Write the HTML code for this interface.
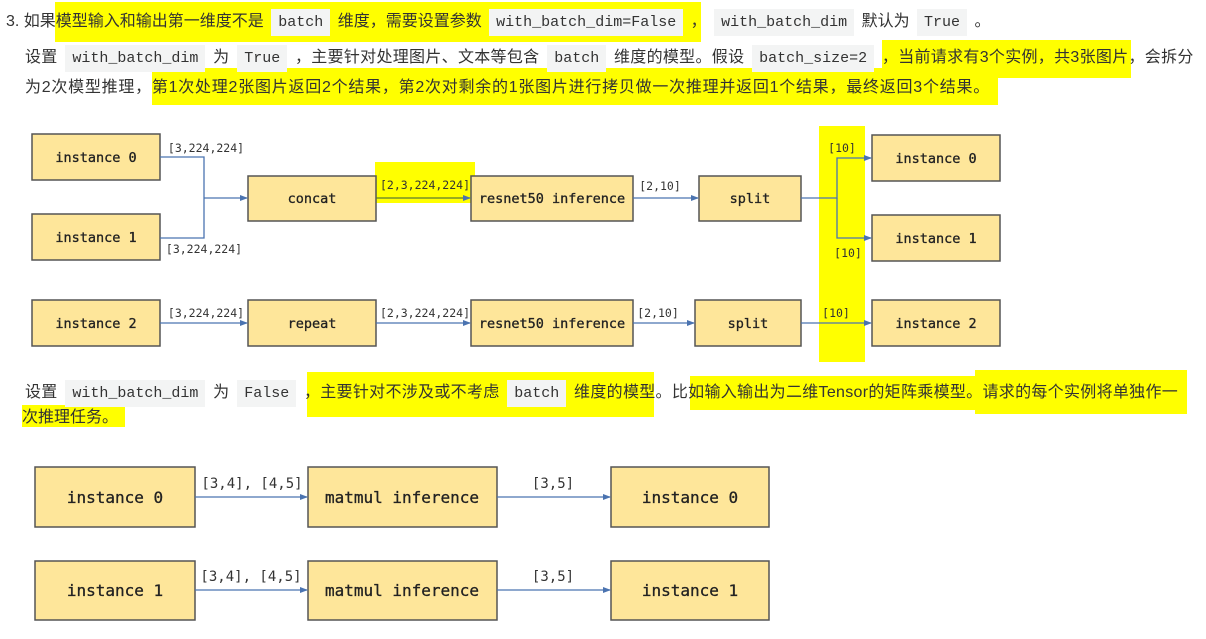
<!DOCTYPE html>
<html><head><meta charset="utf-8"><style>
body{margin:0;width:1206px;height:639px;background:#fff;position:relative;overflow:hidden;font-family:"Liberation Sans","Noto Sans CJK SC",sans-serif;color:#333;font-size:16px}
.hl{position:absolute;background:#ffff00}
.t{position:absolute;white-space:nowrap;line-height:20px}
code{font-family:"Liberation Mono","DejaVu Sans Mono",monospace;background:#f3f4f4;padding:5px 7px;font-size:15px;color:#333;margin:0 3px;letter-spacing:0}
svg{position:absolute;left:0;top:0}
</style></head><body>
<div class="hl" style="left:55px;top:2px;width:646px;height:40px"></div>
<div class="hl" style="left:882px;top:40px;width:249px;height:38px"></div>
<div class="hl" style="left:152px;top:68px;width:846px;height:37px"></div>
<div class="hl" style="left:307px;top:372px;width:347px;height:45px"></div>
<div class="hl" style="left:690px;top:376px;width:286px;height:34px"></div>
<div class="hl" style="left:975px;top:370px;width:212px;height:44px"></div>
<div class="hl" style="left:22px;top:405px;width:103px;height:22px"></div>
<div class="hl" style="left:375px;top:162px;width:100px;height:41px"></div>
<div class="hl" style="left:819px;top:126px;width:46px;height:236px"></div>

<div class="t" style="left:6px;top:12px">3. 如果模型输入和输出第一维度不是 <code>batch</code> 维度，需要设置参数 <code>with_batch_dim=False</code> ， <code>with_batch_dim</code> 默认为 <code>True</code> 。</div>
<div class="t" style="left:25px;top:48px;letter-spacing:0.3px">设置 <code>with_batch_dim</code> 为 <code>True</code> ，主要针对处理图片、文本等包含 <code>batch</code> 维度的模型。假设 <code>batch_size=2</code> ，当前请求有3个实例，共3张图片，会拆分</div>
<div class="t" style="left:25px;top:78px;letter-spacing:0.75px">为2次模型推理，第1次处理2张图片返回2个结果，第2次对剩余的1张图片进行拷贝做一次推理并返回1个结果，最终返回3个结果。</div>
<div class="t" style="left:25px;top:383px;letter-spacing:0.3px">设置 <code>with_batch_dim</code> 为 <code>False</code> ，主要针对不涉及或不考虑 <code>batch</code> 维度的模型。比如输入输出为二维Tensor的矩阵乘模型。请求的每个实例将单独作一</div>
<div class="t" style="left:22px;top:408px">次推理任务。</div>

<svg width="1206" height="639" font-family="'DejaVu Sans Mono','Liberation Mono',monospace">
<defs><marker id="a" markerWidth="8" markerHeight="8" refX="7" refY="4" orient="auto" markerUnits="userSpaceOnUse"><path d="M0,1 L8,4 L0,7z" fill="#4a73b0"/></marker></defs>
<g fill="#fee69a" stroke="#555" stroke-width="1.5">
<rect x="32" y="134" width="128" height="46"/><rect x="32" y="214" width="128" height="46"/>
<rect x="248" y="176" width="128" height="45"/><rect x="471" y="176" width="162" height="45"/>
<rect x="699" y="176" width="102" height="45"/><rect x="872" y="135" width="128" height="46"/>
<rect x="872" y="215" width="128" height="46"/>
<rect x="32" y="300" width="128" height="46"/><rect x="248" y="300" width="128" height="46"/>
<rect x="471" y="300" width="162" height="46"/><rect x="695" y="300" width="106" height="46"/>
<rect x="872" y="300" width="128" height="46"/>
<rect x="35" y="467" width="160" height="60"/><rect x="308" y="467" width="189" height="60"/><rect x="611" y="467" width="158" height="60"/>
<rect x="35" y="561" width="160" height="59"/><rect x="308" y="561" width="189" height="59"/><rect x="611" y="561" width="158" height="59"/>
</g>
<g fill="none" stroke="#4a73b0" stroke-width="1.3" marker-end="url(#a)">
<path d="M160,157 H204 V238 H160" marker-end="none"/>
<path d="M204,198 H247"/>
<path d="M376,198 H470" stroke="#5a7a30"/>
<path d="M633,198 H698"/>
<path d="M801,198 H837 V158 H871"/>
<path d="M837,198 V238 H871"/>
<path d="M160,323 H247"/><path d="M376,323 H470"/><path d="M633,323 H694"/><path d="M801,323 H871"/>
<path d="M195,497 H307"/><path d="M497,497 H610"/>
<path d="M195,590 H307"/><path d="M497,590 H610"/>
</g>
<g font-size="13.5" fill="#222" text-anchor="middle" stroke="#222" stroke-width="0.3">
<text x="96" y="162">instance 0</text><text x="96" y="242">instance 1</text>
<text x="312" y="203">concat</text><text x="552" y="203">resnet50 inference</text>
<text x="750" y="203">split</text><text x="936" y="163">instance 0</text><text x="936" y="243">instance 1</text>
<text x="96" y="328">instance 2</text><text x="312" y="328">repeat</text>
<text x="552" y="328">resnet50 inference</text><text x="748" y="328">split</text><text x="936" y="328">instance 2</text>
</g>
<g font-size="11.5" fill="#333" text-anchor="middle">
<text x="206" y="152">[3,224,224]</text><text x="204" y="253">[3,224,224]</text>
<text x="425" y="189">[2,3,224,224]</text><text x="660" y="190">[2,10]</text>
<text x="842" y="152">[10]</text><text x="848" y="257">[10]</text>
<text x="206" y="317">[3,224,224]</text><text x="425" y="317">[2,3,224,224]</text>
<text x="658" y="317">[2,10]</text><text x="836" y="317">[10]</text>
</g>
<g font-size="16" fill="#222" text-anchor="middle" stroke="#222" stroke-width="0.3">
<text x="115" y="503">instance 0</text><text x="402" y="503">matmul inference</text><text x="690" y="503">instance 0</text>
<text x="115" y="596">instance 1</text><text x="402" y="596">matmul inference</text><text x="690" y="596">instance 1</text>
</g>
<g font-size="14" fill="#333" text-anchor="middle">
<text x="252" y="488">[3,4], [4,5]</text><text x="553" y="488">[3,5]</text>
<text x="251" y="581">[3,4], [4,5]</text><text x="553" y="581">[3,5]</text>
</g>
</svg>
</body></html>
